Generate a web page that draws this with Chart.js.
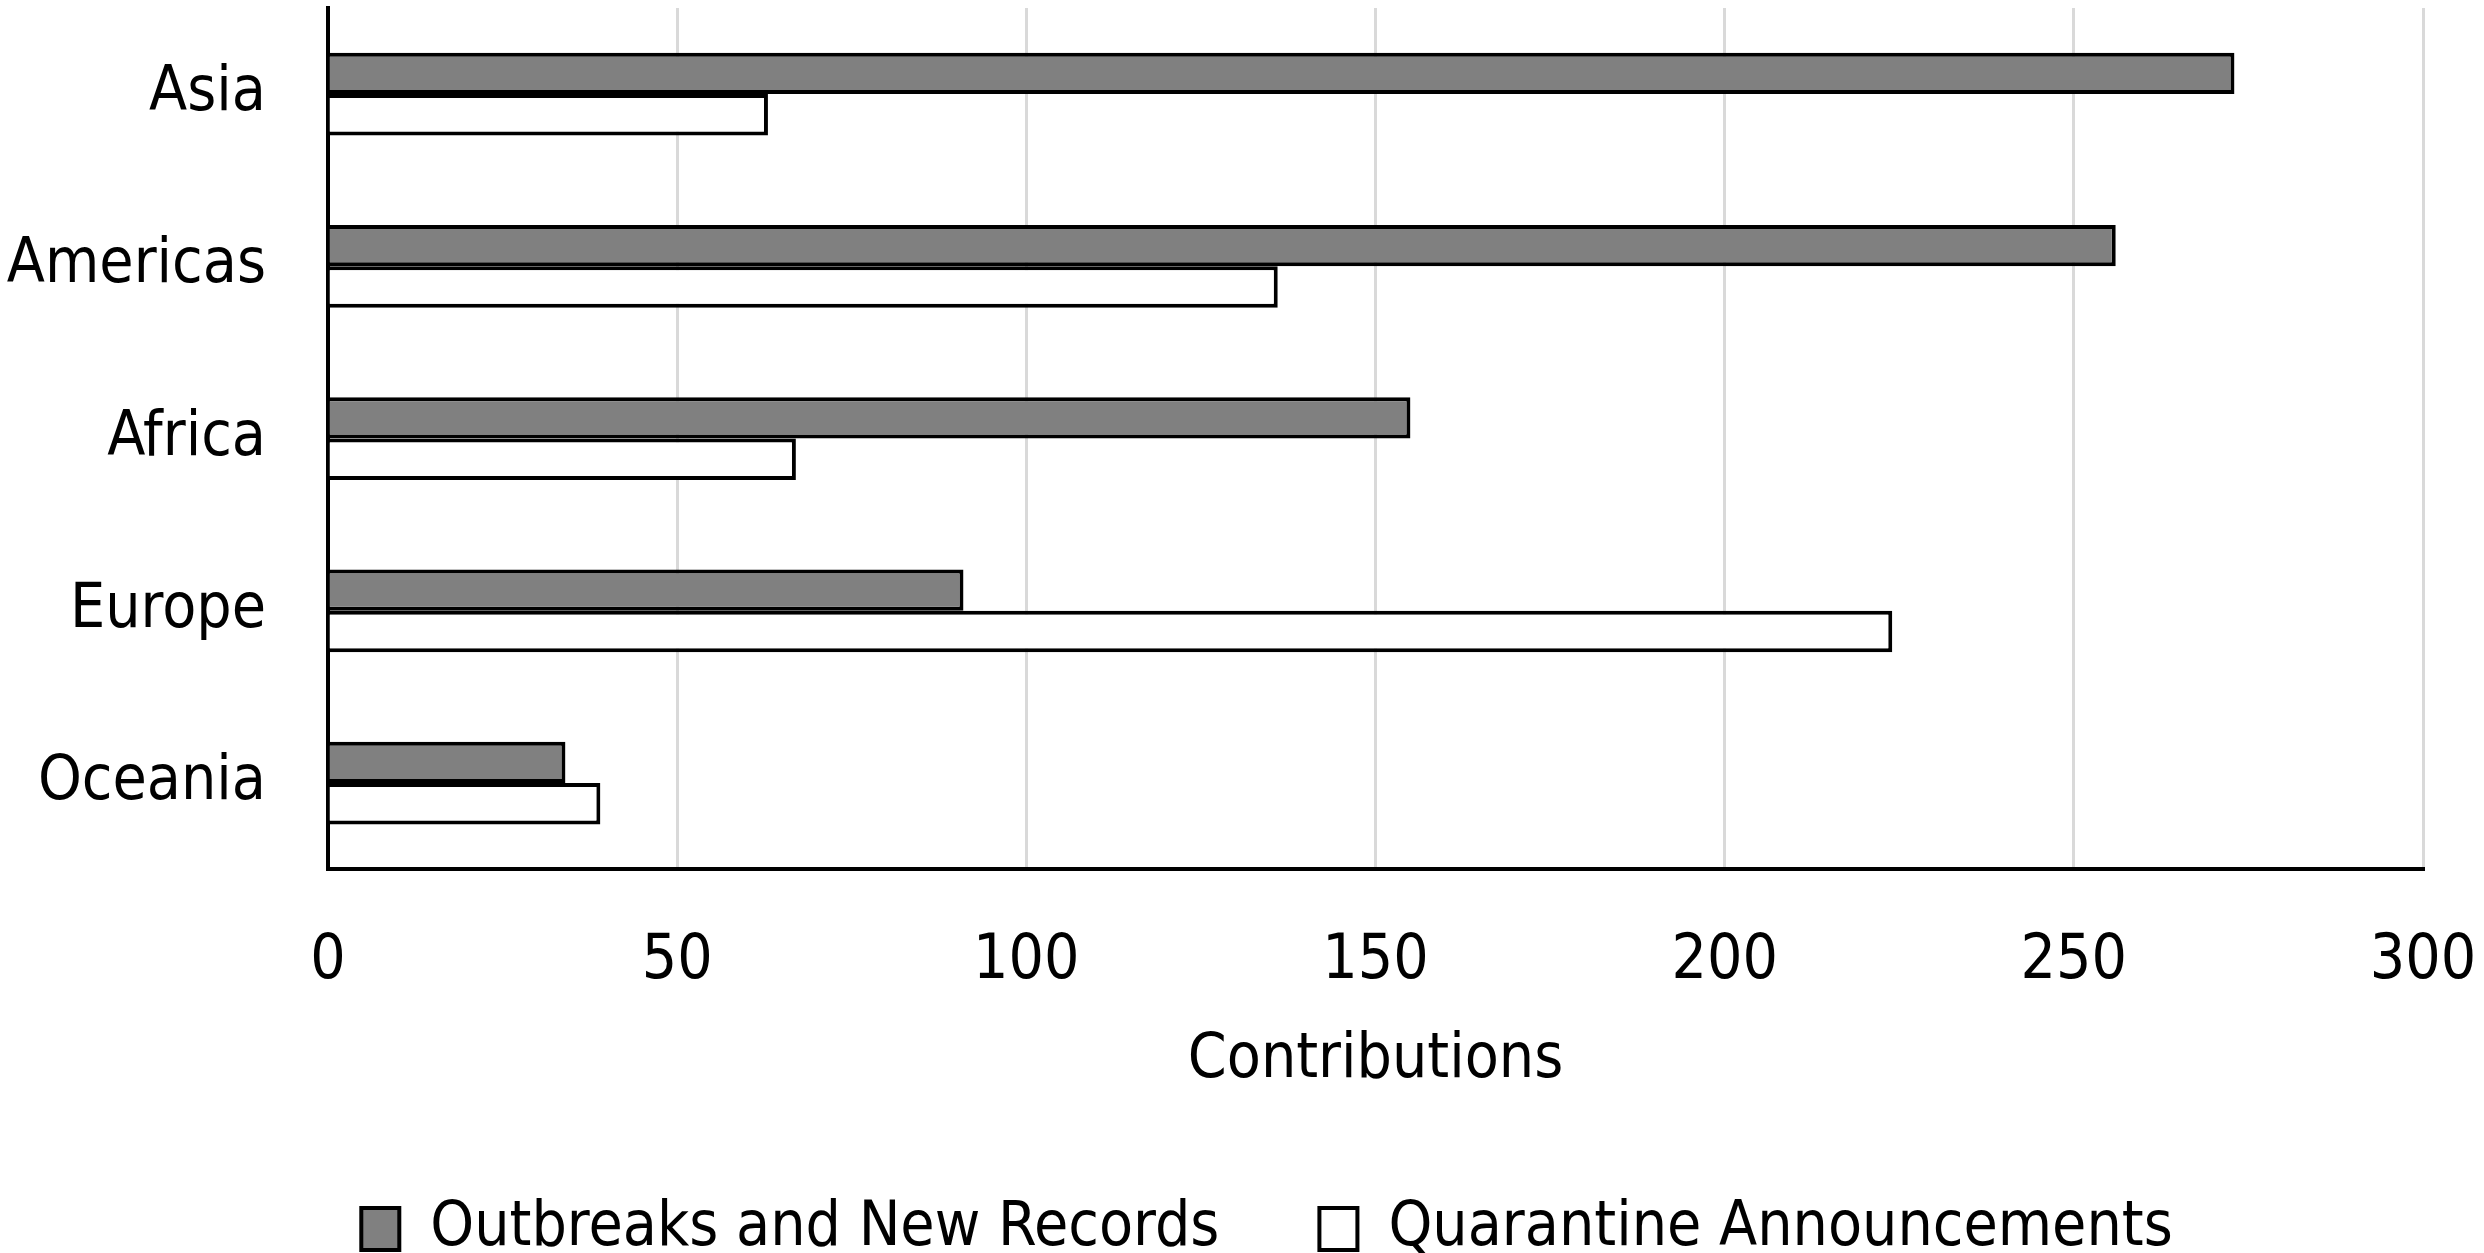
<!doctype html>
<html>
<head>
	<meta charset="utf-8" />
	<title>Contributions by region</title>
	<script src="https://cdn.jsdelivr.net/npm/chart.js@4.4.1/dist/chart.umd.min.js"></script>
	<style>
		html, body { margin: 0; padding: 0; background: #fff; }
		#wrap { width: 2484px; height: 1253px; }
	</style>
</head>
<body>
	<div id="wrap"><canvas id="canvas"></canvas></div>
	<script>
		const regions = ['Asia', 'Americas', 'Africa', 'Europe', 'Oceania'];
		const outbreaks = [273, 256, 155, 91, 34];
		const quarantine = [63, 136, 67, 224, 39];
		const xTicks = [0, 50, 100, 150, 200, 250, 300];

		const font = "'DejaVu Sans Condensed', 'Liberation Sans Narrow', 'Open Sans', sans-serif";
		Chart.defaults.font.family = font;
		Chart.defaults.font.size = 62;
		Chart.defaults.color = '#000';

		// the y labels reach into the left layout padding, so widen their clip box
		const unclipLabels = {
			id: 'unclipLabels',
			afterLayout(chart) {
				chart.scales.y.left = 0;
			}
		};

		var config = {
			type: 'bar',
			data: {
				labels: regions,
				datasets: [{
					label: 'Outbreaks and New Records',
					data: outbreaks,
					backgroundColor: '#808080',
					borderColor: '#000',
					borderWidth: 4
				}, {
					label: 'Quarantine Announcements',
					data: quarantine,
					backgroundColor: '#fff',
					borderColor: '#000',
					borderWidth: 4
				}]
			},
			options: {
				indexAxis: 'y',
				responsive: true,
				maintainAspectRatio: false,
				animation: false,
				datasets: {
					bar: { categoryPercentage: 0.48, barPercentage: 1.0 }
				},
				// left padding shifts the centred legend to where the original sits
				layout: { padding: { top: 8, right: 61, bottom: -17, left: 111 } },
				plugins: {
					tooltip: { enabled: false },
					legend: {
						position: 'bottom',
						labels: {
							boxWidth: 38,
							boxHeight: 42,
							padding: 100,
							font: { size: 62 }
						}
					}
				},
				scales: {
					x: {
						min: 0,
						max: 300,
						afterBuildTicks: (scale) => { scale.ticks = xTicks.map(v => ({ value: v })); },
						afterFit: (scale) => { scale.paddingLeft = 0; scale.paddingRight = 0; },
						grid: { color: '#d9d9d9', lineWidth: 3, drawTicks: false },
						border: { display: true, color: '#000', width: 4 },
						ticks: { padding: 55, font: { size: 62 } },
						title: {
							display: true,
							text: 'Contributions',
							padding: { top: -30, bottom: 0 },
							font: { size: 62 }
						}
					},
					y: {
						afterFit: (scale) => {
							scale.width = 217;
							scale.paddingTop = 0;
							scale.paddingBottom = 0;
						},
						grid: { display: false, drawTicks: false },
						border: { display: true, color: '#000', width: 4 },
						ticks: { padding: 62, font: { size: 62 } }
					}
				}
			},
			plugins: [unclipLabels]
		};

		window.onload = function() {
			window.myBar = new Chart(document.getElementById('canvas'), config);
		};
	</script>
</body>
</html>
